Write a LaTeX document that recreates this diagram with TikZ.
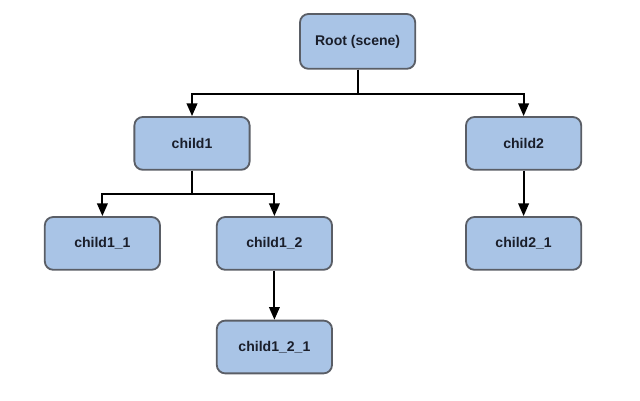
\documentclass[tikz,border=0pt]{standalone}
\usepackage{fontspec}
\setmainfont{Liberation Sans}
\usetikzlibrary{arrows.meta}
\definecolor{boxfill}{HTML}{A9C4E6}
\definecolor{boxline}{HTML}{5A5E66}
\definecolor{boxtext}{HTML}{1A1E2A}
\begin{document}
\begin{tikzpicture}[every node/.style={font=\bfseries\fontsize{10}{12}\selectfont, text=boxtext},
  treebox/.style={draw=boxline, line width=1.3pt, fill=boxfill, rounded corners=6pt, minimum width=2.88cm, minimum height=1.32cm},
  link/.style={line width=1.4pt, -{Triangle[length=9pt,width=7.5pt]}}]
  \useasboundingbox (0,0) rectangle (16,10.025);
  \node[treebox, minimum height=1.37cm] (root) at (8.94,8.99) {Root (scene)};
  \node[treebox] (child1) at (4.8,6.44) {child1};
  \node[treebox] (child2) at (13.09,6.44) {child2};
  \node[treebox] (child11) at (2.56,3.94) {child1\_1};
  \node[treebox] (child12) at (6.86,3.94) {child1\_2};
  \node[treebox] (child21) at (13.09,3.94) {child2\_1};
  \node[treebox] (child121) at (6.86,1.35) {child1\_2\_1};
  % branches
  \draw[link] (root.south) -- ++(0,-0.6) -| (child1.north);
  \draw[link] (root.south) -- ++(0,-0.6) -| (child2.north);
  \draw[link] (child1.south) -- ++(0,-0.58) -| (child11.north);
  \draw[link] (child1.south) -- ++(0,-0.58) -| (child12.north);
  \draw[link] (child12.south) -- (child121.north);
  \draw[link] (child2.south) -- (child21.north);
\end{tikzpicture}
\end{document}
